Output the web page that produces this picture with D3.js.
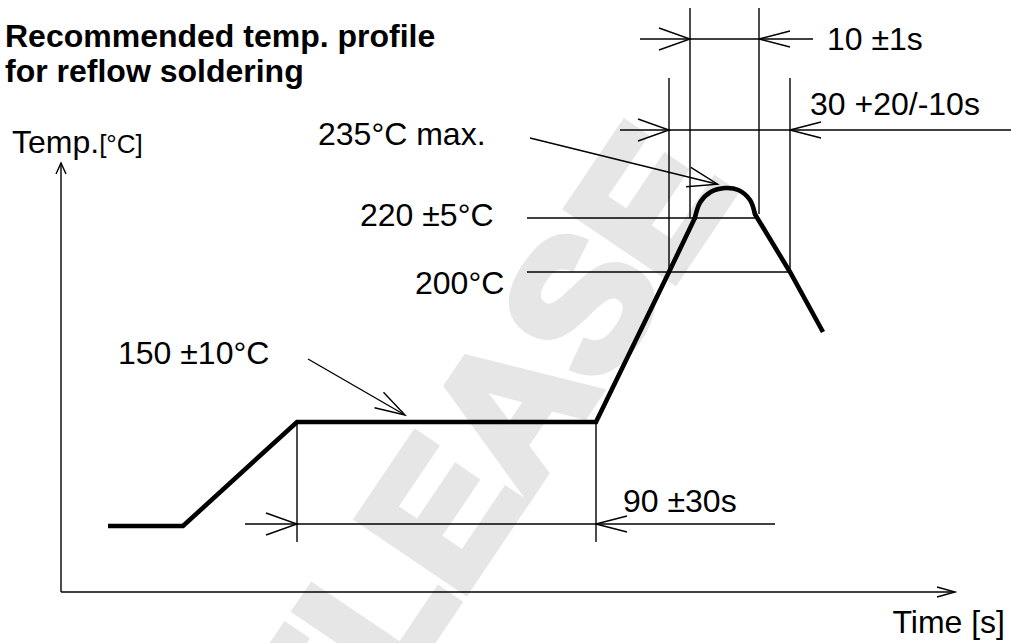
<!DOCTYPE html>
<html>
<head>
<meta charset="utf-8">
<script src="https://cdn.jsdelivr.net/npm/d3@7"></script>
<style>
  html, body { margin: 0; padding: 0; background: #fff; }
  svg { display: block; }
  text { font-family: 'Liberation Sans', Arial, Helvetica, sans-serif; fill: #000; }
</style>
</head>
<body>
<svg id="chart" width="1011" height="643"></svg>
<script>
// schematic key times [s] / temps [°C] (the drawing is not to scale)
const keyTimes = [0, 15, 36, 70, 160, 180, 190, 200, 210, 220, 270]
const keyTemps = [0, 25, 150, 200, 220, 235, 245]

// profile: preheat ramp + soak, peak, cooling
const rampTimes = [15, 36, 70, 160, 180, 190.7]
const rampTemps = [25, 25, 150, 150, 200, 220]
const peakTimes = [190.7, 191.5, 193, 195.1, 197, 198.7, 199.4]
const peakTemps = [220, 228, 233, 235, 234, 229, 222]
const coolTimes = [199.4, 210, 220]
const coolTemps = [222, 200, 180]

const levelLabels = ['235°C max.', '220 ±5°C', '200°C', '150 ±10°C']
const spanStarts = [70, 180, 190]
const spanEnds = [160, 210, 200]
const spanLabels = ['90 ±30s', '30 +20/-10s', '10 ±1s']

const svg = d3.select('#chart')

const x = d3.scaleLinear()
  .domain(keyTimes)
  .range([61, 108, 183, 297, 596, 669, 690, 759, 790, 823, 955])
const y = d3.scaleLinear()
  .domain(keyTemps)
  .range([592, 526, 422, 272, 218, 188, 163])

// watermark
svg.append('text')
  .attr('transform', 'translate(440,508) rotate(-56)')
  .attr('text-anchor', 'middle')
  .attr('dy', '0.36em')
  .style('font-size', '185px')
  .style('font-weight', 'bold')
  .style('letter-spacing', '-2px')
  .style('fill', '#e6e6e6')
  .style('stroke', '#e6e6e6')
  .style('stroke-width', 10)
  .style('stroke-linejoin', 'miter')
  .text('RELEASE')

const thin = svg.append('g')
  .attr('fill', 'none')
  .attr('stroke', '#000')
  .attr('stroke-width', 1.4)

function seg(x1, y1, x2, y2) {
  thin.append('line')
    .attr('x1', x1).attr('y1', y1)
    .attr('x2', x2).attr('y2', y2)
}

function arrowHead(tip, dir, len, half) {
  const n = Math.hypot(dir[0], dir[1])
  const ux = dir[0] / n, uy = dir[1] / n
  const bx = tip[0] - ux * len, by = tip[1] - uy * len
  const px = -uy * half, py = ux * half
  const p = d3.path()
  p.moveTo(bx + px, by + py)
  p.lineTo(tip[0], tip[1])
  p.lineTo(bx - px, by - py)
  thin.append('path').attr('d', p.toString())
}

// axes
seg(x(0), y(0), x(270), y(0))
seg(x(0), y(0), x(0), y(245))
arrowHead([x(270), y(0)], [1, 0], 18, 5)
arrowHead([x(0), y(245)], [0, -1], 11, 5)

// level lines 220 / 200
const levelX0 = 527
seg(levelX0, y(220), x(199.6), y(220))
seg(levelX0, y(200), x(210), y(200))

// time spans: dimension line y, its ends, extension line top/bottom, label
const spanLayout = [
  { dy: 524, x0: 245, x1: 775, top: y(150), bottom: 542, tx: 623, ty: 512 },
  { dy: 130, x0: 620, x1: 1011, top: 78, bottom: y(200), tx: 810, ty: 115 },
  { dy: 39, x0: 640, x1: 813, top: 8, bottom: y(220), tx: 827, ty: 50 }
]

spanLabels.forEach((label, i) => {
  const L = spanLayout[i]
  const xa = x(spanStarts[i]), xb = x(spanEnds[i])
  seg(L.x0, L.dy, L.x1, L.dy)
  seg(xa, L.top, xa, L.bottom)
  seg(xb, L.top, xb, i === 2 ? y(222) : L.bottom)
  arrowHead([xa, L.dy], [1, 0], 31, 11)
  arrowHead([xb, L.dy], [-1, 0], 31, 8)
  svg.append('text')
    .attr('x', L.tx).attr('y', L.ty)
    .style('font-size', '32px')
    .text(label)
})

// leaders for 235 and 150
seg(530, 138, x(194), y(236.5))
arrowHead([x(194), y(236.5)], [x(194) - 530, y(236.5) - 138], 30, 10)
seg(308, 359, x(102.5), y(150) - 7)
arrowHead([x(102.5), y(150) - 7], [x(102.5) - 308, y(150) - 7 - 359], 30, 9)

// level labels
const labelPos = [[318, 145], [360, 226], [415, 294], [118, 364]]
levelLabels.forEach((label, i) => {
  svg.append('text')
    .attr('x', labelPos[i][0]).attr('y', labelPos[i][1])
    .style('font-size', '32px')
    .text(label)
})

// profile
const line = d3.line().x(d => x(d[0])).y(d => y(d[1]))
const prof = svg.append('g')
  .attr('fill', 'none')
  .attr('stroke', '#000')
  .attr('stroke-width', 4.6)
prof.append('path')
  .attr('stroke-linejoin', 'miter')
  .attr('d', line(d3.zip(rampTimes, rampTemps)))
prof.append('path')
  .attr('stroke-linecap', 'round')
  .attr('d', line.curve(d3.curveCatmullRom)(d3.zip(peakTimes, peakTemps)))
prof.append('path')
  .attr('d', d3.line().x(d => x(d[0])).y(d => y(d[1]))(d3.zip(coolTimes, coolTemps)))

// titles
svg.append('text')
  .attr('x', 5).attr('y', 47)
  .style('font-size', '32px').style('font-weight', 'bold')
  .text('Recommended temp. profile')
svg.append('text')
  .attr('x', 5).attr('y', 82)
  .style('font-size', '32px').style('font-weight', 'bold')
  .text('for reflow soldering')

const tl = svg.append('text')
  .attr('x', 12).attr('y', 153)
  .style('font-size', '32px')
tl.append('tspan').text('Temp.')
tl.append('tspan').style('font-size', '26px').text('[°C]')

svg.append('text')
  .attr('x', 1005).attr('y', 633)
  .attr('text-anchor', 'end')
  .style('font-size', '32px')
  .text('Time [s]')
</script>
</body>
</html>
